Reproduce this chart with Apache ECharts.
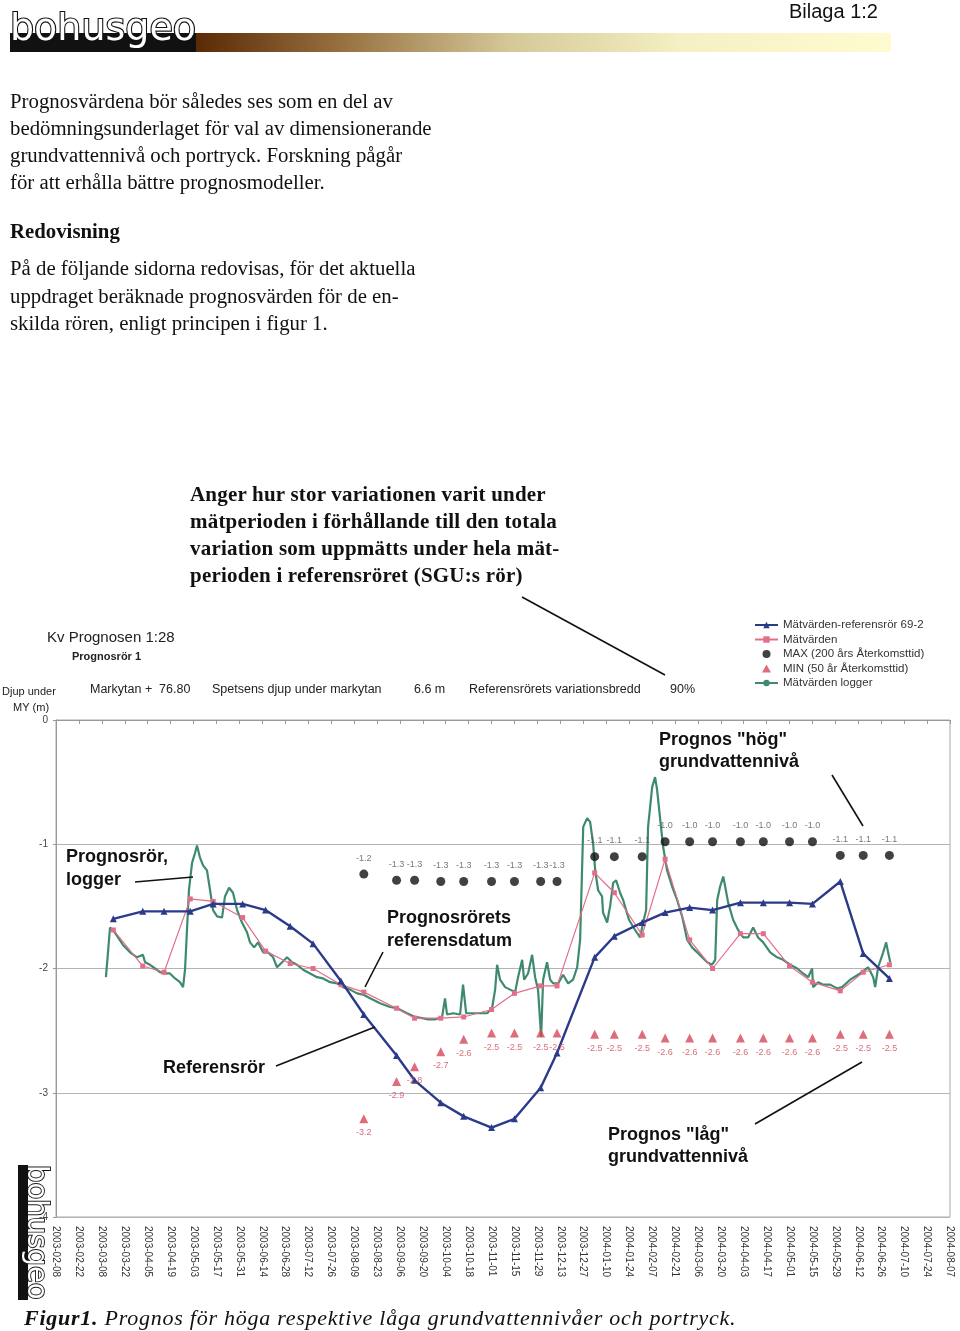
<!DOCTYPE html>
<html>
<head>
<meta charset="utf-8">
<script src="https://cdn.jsdelivr.net/npm/echarts@6/dist/echarts.min.js"></script>
<style>
html, body { margin: 0; padding: 0; background: #fff; }
#page { position: relative; width: 960px; height: 1331px; overflow: hidden; }
#chart { position: absolute; left: 0; top: 0; width: 960px; height: 1331px; }
.txt { position: absolute; font-family: "Liberation Serif", "Times New Roman", serif; color: #111; white-space: nowrap; }
</style>
</head>
<body>
<div id="page">
  <div id="chart"></div>
  <div class="txt" style="left:10px;top:87px;font-size:20.8px;line-height:27px;">Prognosvärdena bör således ses som en del av<br>bedömningsunderlaget för val av dimensionerande<br>grundvattennivå och portryck. Forskning pågår<br>för att erhålla bättre prognosmodeller.</div>
  <div class="txt" style="left:10px;top:217px;font-size:20.8px;line-height:27px;font-weight:bold;">Redovisning</div>
  <div class="txt" style="left:10px;top:254px;font-size:20.8px;line-height:27.5px;">På de följande sidorna redovisas, för det aktuella<br>uppdraget beräknade prognosvärden för de en-<br>skilda rören, enligt principen i figur 1.</div>
  <div class="txt" style="left:190px;top:481px;font-size:21px;line-height:27px;font-weight:bold;letter-spacing:0.2px;">Anger hur stor variationen varit under<br>mätperioden i förhållande till den totala<br>variation som uppmätts under hela mät-<br>perioden i referensröret (SGU:s rör)</div>
  <div class="txt" style="left:24px;top:1304px;font-size:22px;line-height:28px;font-style:italic;letter-spacing:0.75px;"><b>Figur1.</b> Prognos för höga respektive låga grundvattennivåer och portryck.</div>
</div>
<script>
// x axis counts days from the first tick label
var startDate = Date.UTC(2003, 1, 8);
var dayMs = 86400000;

// manual measurements (1st / 15th of month roughly)
var measureDates = ['2003-03-15', '2003-04-02', '2003-04-15', '2003-05-01', '2003-05-15', '2003-06-02',
    '2003-06-16', '2003-07-01', '2003-07-15', '2003-08-01', '2003-08-15', '2003-09-04', '2003-09-15',
    '2003-10-01', '2003-10-15', '2003-11-01', '2003-11-15', '2003-12-01', '2003-12-11', '2004-01-03',
    '2004-01-15', '2004-02-01', '2004-02-15', '2004-03-01', '2004-03-15', '2004-04-01', '2004-04-15',
    '2004-05-01', '2004-05-15', '2004-06-01', '2004-06-15', '2004-07-01'];

var refPipe = [-1.60, -1.54, -1.54, -1.54, -1.48, -1.48, -1.53, -1.66, -1.80, -2.10, -2.37, -2.70, -2.90,
    -3.08, -3.19, -3.28, -3.21, -2.96, -2.68, -1.91, -1.74, -1.63, -1.55, -1.51, -1.53, -1.47, -1.47,
    -1.47, -1.48, -1.30, -1.88, -2.08];

var measured = [-1.69, -1.98, -2.03, -1.44, -1.46, -1.59, -1.86, -1.96, -2.00, -2.13, -2.19, -2.32, -2.40,
    -2.40, -2.39, -2.33, -2.20, -2.14, -2.14, -1.23, -1.39, -1.73, -1.12, -1.77, -2.00, -1.72, -1.72,
    -1.98, -2.11, -2.18, -2.03, -1.97];

// prognoses start at the reference date (2003-08-15)
var prognosDates = measureDates.slice(10);
var maxPrognos = [-1.24, -1.29, -1.29, -1.30, -1.30, -1.30, -1.30, -1.30, -1.30, -1.10, -1.10, -1.10,
    -0.98, -0.98, -0.98, -0.98, -0.98, -0.98, -0.98, -1.09, -1.09, -1.09];
var minPrognos = [-3.21, -2.91, -2.79, -2.67, -2.57, -2.52, -2.52, -2.52, -2.52, -2.53, -2.53, -2.53,
    -2.56, -2.56, -2.56, -2.56, -2.56, -2.56, -2.56, -2.53, -2.53, -2.53];

// logger (days since 2003-02-08)
var loggerDays = [30.5, 33, 34.8, 37.9, 40.9, 45.2, 49.5, 53.1, 54.4, 57.4,
    60.5, 63.5, 66.6, 69.6, 72.7, 75.7, 77.6, 78.8, 80, 81.2,
    83.1, 84.9, 86.1, 88, 89.8, 92.2, 94.1, 95.9, 98.4, 101.4,
    103.2, 105.7, 108.1, 110.6, 113.6, 116.7, 118.5, 121, 123.4, 126.5,
    129.5, 132.6, 135, 138.1, 141.1, 144.2, 147.2, 150.9, 155.2, 159.4,
    163.1, 167.4, 171.7, 175.3, 179.6, 183.9, 187.5, 191.8, 197.9, 204,
    208.3, 214.4, 219.3, 223.6, 227.2, 231.5, 235.8, 237.6, 238.8, 242.5,
    246.8, 248.6, 250.5, 254.7, 259, 263.3, 266.3, 268.2, 269.4, 271.2,
    274.3, 277.3, 280.4, 282.2, 284.7, 285.9, 288.3, 290.8, 292.6, 294.4,
    296.3, 297.5, 299.9, 301.8, 303.6, 306.7, 309.7, 312.8, 315.8, 318.3,
    320.1, 322, 324.4, 326.2, 328, 329.3, 331.1, 333.5, 334.1, 336.6,
    338.4, 340.3, 342.1, 344.5, 346.4, 348.2, 350, 353.7, 356.7, 358.6,
    360.4, 361.6, 364.1, 365.9, 367.1, 369, 370.8, 373.2, 376.3, 379.4,
    382.4, 385.5, 388.5, 391.6, 394.6, 397.7, 400.7, 402.6, 403.8, 405.6,
    407.5, 408.7, 410.5, 413.6, 416.6, 419.7, 422.7, 425.8, 428.8, 431.9,
    436.2, 440.4, 444.1, 448.4, 452.7, 456.3, 459.4, 461.8, 462.4, 465.5,
    468.5, 472.8, 477.1, 480.1, 485, 491.1, 496, 499.1, 500.3, 502.1,
    505.2, 507, 508.2, 509.5];
var loggerDepth = [-2.07, -1.67, -1.69, -1.75, -1.81, -1.87, -1.91, -1.89, -1.95, -1.97,
    -2.00, -2.03, -2.04, -2.04, -2.08, -2.11, -2.15, -2.01, -1.69, -1.37,
    -1.15, -1.07, -1.01, -1.11, -1.17, -1.21, -1.37, -1.53, -1.58, -1.59,
    -1.42, -1.35, -1.39, -1.53, -1.63, -1.71, -1.79, -1.83, -1.79, -1.87,
    -1.87, -1.91, -1.99, -1.95, -1.91, -1.95, -1.97, -2.01, -2.04, -2.07,
    -2.08, -2.11, -2.12, -2.15, -2.17, -2.20, -2.21, -2.24, -2.28, -2.31,
    -2.32, -2.36, -2.39, -2.40, -2.41, -2.41, -2.39, -2.24, -2.37, -2.36,
    -2.37, -2.13, -2.36, -2.36, -2.36, -2.36, -2.32, -2.17, -1.97, -2.09,
    -2.15, -2.17, -2.19, -2.07, -1.93, -2.09, -2.04, -1.89, -2.07, -2.17,
    -2.55, -2.09, -1.95, -2.09, -2.12, -2.12, -2.05, -2.12, -2.09, -1.99,
    -1.77, -0.86, -0.79, -0.82, -0.99, -1.21, -1.37, -1.42, -1.55, -1.63,
    -1.50, -1.31, -1.29, -1.39, -1.45, -1.53, -1.61, -1.69, -1.75, -1.63,
    -1.53, -0.86, -0.54, -0.46, -0.56, -0.80, -1.02, -1.21, -1.34, -1.45,
    -1.58, -1.77, -1.83, -1.87, -1.91, -1.95, -1.97, -1.93, -1.45, -1.34,
    -1.26, -1.34, -1.47, -1.61, -1.69, -1.75, -1.75, -1.67, -1.75, -1.79,
    -1.87, -1.91, -1.93, -1.97, -2.00, -2.04, -2.07, -2.00, -2.15, -2.11,
    -2.13, -2.13, -2.16, -2.15, -2.09, -2.04, -1.99, -2.07, -2.15, -1.99,
    -1.87, -1.79, -1.87, -1.95];

var seriesNames = ['Mätvärden-referensrör 69-2', 'Mätvärden', 'MAX (200 års Återkomsttid)',
    'MIN (50 år Återkomsttid)', 'Mätvärden logger'];

function dayOf(s) {
    var p = s.split('-');
    return (Date.UTC(+p[0], +p[1] - 1, +p[2]) - startDate) / dayMs;
}
function dateLabel(d) {
    return new Date(startDate + d * dayMs).toISOString().slice(0, 10);
}
function pairs(dates, vals) {
    return dates.map(function(d, i) { return [dayOf(d), vals[i]]; });
}

var sans = '"Liberation Sans", Arial, sans-serif';
function txt(x, y, s, size, extra) {
    var st = { text: s, fontSize: size, fontFamily: sans, fill: '#222',
        textVerticalAlign: 'middle', verticalAlign: 'middle' };
    for (var k in extra) st[k] = extra[k];
    return { type: 'text', x: x, y: y, style: st, z: 100 };
}
function ln(x1, y1, x2, y2) {
    return { type: 'line', shape: { x1: x1, y1: y1, x2: x2, y2: y2 }, style: { stroke: '#111', lineWidth: 1.6 }, z: 100 };
}
var bold = { fontWeight: 'bold', fill: '#111' };
var head = 12.5;

var dom = document.getElementById('chart');
var myChart = echarts.init(dom);

var option = {
    animation: false,
    backgroundColor: 'transparent',
    grid: { left: 56, right: 10, top: 720, bottom: 114, show: true, borderColor: '#a8a8a8', borderWidth: 1 },
    legend: {
        orient: 'vertical', left: 754, top: 619, padding: 0,
        itemWidth: 23, itemHeight: 8, itemGap: 2.5,
        textStyle: { fontSize: 11.5, lineHeight: 11, color: '#333', fontFamily: sans },
        data: [
            { name: seriesNames[0] },
            { name: seriesNames[1] },
            { name: seriesNames[2] },
            { name: seriesNames[3], icon: 'path://M5,0L10,9L0,9Z' },
            { name: seriesNames[4] }
        ]
    },
    xAxis: {
        type: 'value', min: 0, max: 546, interval: 14,
        axisLine: { lineStyle: { color: '#999' } },
        axisTick: { show: true, length: 4, lineStyle: { color: '#999' } },
        splitLine: { show: false },
        axisLabel: { rotate: -90, margin: 9, fontSize: 10, color: '#333', fontFamily: sans, formatter: dateLabel }
    },
    yAxis: {
        type: 'value', min: -4, max: 0, interval: 1,
        axisLine: { show: true, lineStyle: { color: '#999' } },
        axisTick: { show: true, length: 3, lineStyle: { color: '#999' } },
        splitLine: { lineStyle: { color: '#b4b4b4' } },
        axisLabel: { fontSize: 10, color: '#444', margin: 8, fontFamily: sans }
    },
    series: [
        {
            name: seriesNames[4], type: 'line', symbol: 'none', showSymbol: false, z: 2,
            lineStyle: { color: '#3e8a6c', width: 2.2 }, itemStyle: { color: '#3e8a6c' },
            data: loggerDays.map(function(d, i) { return [d, loggerDepth[i]]; })
        },
        {
            name: seriesNames[1], type: 'line', symbol: 'rect', symbolSize: 5, z: 3,
            lineStyle: { color: '#e26e8a', width: 1.2 }, itemStyle: { color: '#e26e8a' },
            data: pairs(measureDates, measured)
        },
        {
            name: seriesNames[0], type: 'line', symbol: 'triangle', symbolSize: 7, z: 4,
            lineStyle: { color: '#2c3a8a', width: 2.4 }, itemStyle: { color: '#2c3a8a' },
            data: pairs(measureDates, refPipe)
        },
        {
            name: seriesNames[2], type: 'scatter', symbol: 'circle', symbolSize: 9, z: 5,
            itemStyle: { color: '#111' },
            label: { show: true, position: 'top', distance: 7, fontSize: 9, color: '#555', fontFamily: sans,
                formatter: function(p) { return p.value[1].toFixed(1); } },
            data: pairs(prognosDates, maxPrognos)
        },
        {
            name: seriesNames[3], type: 'scatter', symbol: 'triangle', symbolSize: 9, z: 5,
            itemStyle: { color: '#d6475a' },
            label: { show: true, position: 'bottom', distance: 5, fontSize: 9, color: '#d0485a', fontFamily: sans,
                formatter: function(p) { return p.value[1].toFixed(1); } },
            data: pairs(prognosDates, minPrognos)
        }
    ],
    graphic: {
        elements: [
            // page header
            { type: 'rect', shape: { x: 10, y: 33, width: 186, height: 19 }, style: { fill: '#111' }, z: 90 },
            { type: 'rect', shape: { x: 196, y: 33, width: 695, height: 19 }, z: 90,
                style: { fill: new echarts.graphic.LinearGradient(0, 0, 1, 0, [
                    { offset: 0, color: '#5a2a04' }, { offset: 0.22, color: '#9a7444' },
                    { offset: 0.45, color: '#d4c898' }, { offset: 0.7, color: '#f6f0c4' },
                    { offset: 1, color: '#fffbd0' }]) } },
            txt(10, 30, 'bohusgeo', 38, { fill: '#fff', stroke: '#111', lineWidth: 2.2, fontFamily: '"DejaVu Sans", sans-serif' }),
            txt(789, 12, 'Bilaga 1:2', 20, { fill: '#111' }),

            // chart heading
            txt(47, 638, 'Kv Prognosen 1:28', 15, {}),
            txt(72, 657, 'Prognosrör 1', 11, { fontWeight: 'bold' }),
            txt(2, 692, 'Djup under', 11, {}),
            txt(13, 708, 'MY (m)', 11, {}),
            txt(90, 690, 'Markytan +  76.80', head, {}),
            txt(212, 690, 'Spetsens djup under markytan', head, {}),
            txt(414, 690, '6.6 m', head, {}),
            txt(469, 690, 'Referensrörets variationsbredd', head, {}),
            txt(670, 690, '90%', head, {}),
            ln(522, 597, 665, 675),

            // callouts
            txt(659, 740, 'Prognos "hög"', 18, bold),
            txt(659, 762, 'grundvattennivå', 18, bold),
            ln(832, 775, 863, 826),
            txt(66, 857, 'Prognosrör,', 18, bold),
            txt(66, 880, 'logger', 18, bold),
            ln(135, 882, 193, 877),
            txt(387, 918, 'Prognosrörets', 18, bold),
            txt(387, 941, 'referensdatum', 18, bold),
            ln(383, 952, 365, 987),
            txt(163, 1068, 'Referensrör', 18, bold),
            ln(276, 1066, 375, 1027),
            txt(608, 1135, 'Prognos "låg"', 18, bold),
            txt(608, 1157, 'grundvattennivå', 18, bold),
            ln(755, 1124, 862, 1062),

            // vertical logo
            { type: 'rect', shape: { x: 18, y: 1165, width: 10, height: 135 }, style: { fill: '#111' }, z: 90 },
            { type: 'text', x: 21, y: 1165, rotation: -Math.PI / 2, z: 100,
                style: { text: 'bohusgeo', fontSize: 27.5, fontFamily: '"DejaVu Sans", sans-serif',
                    fill: '#fff', stroke: '#111', lineWidth: 1.8, textVerticalAlign: 'bottom', verticalAlign: 'bottom' } }
        ]
    }
};

myChart.setOption(option);
</script>
</body>
</html>
